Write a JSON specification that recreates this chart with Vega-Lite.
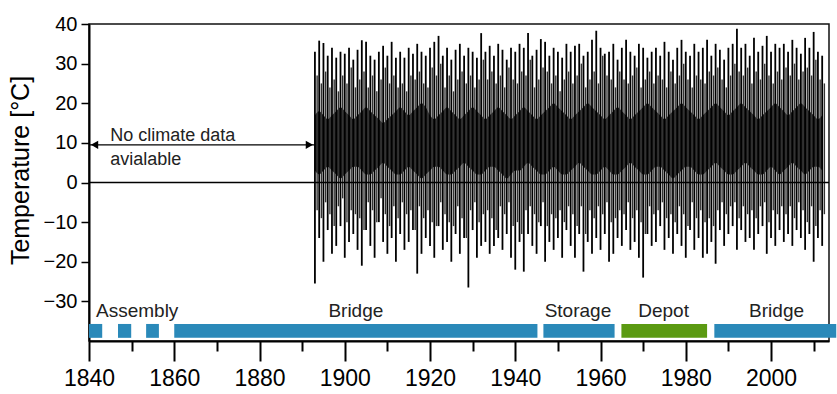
{
"$schema":"https://vega.github.io/schema/vega-lite/v6.json",
"width":740,"height":317,
"autosize":{"type":"none"},
"padding":{"left":89,"top":24,"right":8,"bottom":53},
"background":"white",
"config":{"view":{"stroke":"#111","strokeWidth":1.5},"font":"Liberation Sans"},
"datasets":{
"temp":[
{"yr":1893,"mn":-25.5,"mx":33,"a":-7,"b":27,"lo":3,"hi":17},
{"yr":1894,"mn":-14,"mx":35.8,"a":-9,"b":25,"lo":2,"hi":18},
{"yr":1895,"mn":-20,"mx":35.2,"a":-5,"b":28,"lo":3,"hi":17},
{"yr":1896,"mn":-12,"mx":32,"a":-8,"b":24,"lo":4,"hi":16},
{"yr":1897,"mn":-18,"mx":34,"a":-11,"b":26,"lo":3,"hi":17},
{"yr":1898,"mn":-16,"mx":31.5,"a":-6,"b":23,"lo":2,"hi":18},
{"yr":1899,"mn":-11,"mx":33,"a":-4,"b":27,"lo":1,"hi":19},
{"yr":1900,"mn":-19,"mx":32.5,"a":-10,"b":25,"lo":2,"hi":18},
{"yr":1901,"mn":-15,"mx":34,"a":-7,"b":29,"lo":3,"hi":17},
{"yr":1902,"mn":-13,"mx":31,"a":-8,"b":24,"lo":4,"hi":16},
{"yr":1903,"mn":-17,"mx":33.5,"a":-9,"b":26,"lo":4,"hi":17},
{"yr":1904,"mn":-21,"mx":35.9,"a":-12,"b":28,"lo":3,"hi":18},
{"yr":1905,"mn":-12,"mx":35.5,"a":-5,"b":24,"lo":2,"hi":19},
{"yr":1906,"mn":-16,"mx":32,"a":-7,"b":27,"lo":2,"hi":18},
{"yr":1907,"mn":-19,"mx":31,"a":-10,"b":23,"lo":3,"hi":17},
{"yr":1908,"mn":-10,"mx":33,"a":-4,"b":26,"lo":4,"hi":16},
{"yr":1909,"mn":-15,"mx":34.5,"a":-8,"b":29,"lo":5,"hi":15},
{"yr":1910,"mn":-18,"mx":32,"a":-11,"b":25,"lo":4,"hi":16},
{"yr":1911,"mn":-14,"mx":35.5,"a":-6,"b":27,"lo":3,"hi":17},
{"yr":1912,"mn":-20,"mx":31.5,"a":-9,"b":24,"lo":2,"hi":18},
{"yr":1913,"mn":-13,"mx":33,"a":-5,"b":25,"lo":2,"hi":19},
{"yr":1914,"mn":-17,"mx":31.5,"a":-8,"b":23,"lo":3,"hi":18},
{"yr":1915,"mn":-15,"mx":34,"a":-7,"b":27,"lo":4,"hi":17},
{"yr":1916,"mn":-12,"mx":32.5,"a":-12,"b":26,"lo":3,"hi":18},
{"yr":1917,"mn":-23,"mx":35,"a":-6,"b":28,"lo":2,"hi":19},
{"yr":1918,"mn":-18,"mx":33,"a":-9,"b":25,"lo":1,"hi":20},
{"yr":1919,"mn":-14,"mx":32,"a":-7,"b":24,"lo":2,"hi":19},
{"yr":1920,"mn":-16,"mx":34,"a":-10,"b":29,"lo":3,"hi":17},
{"yr":1921,"mn":-19,"mx":35.5,"a":-11,"b":27,"lo":4,"hi":16},
{"yr":1922,"mn":-11,"mx":37,"a":-5,"b":30,"lo":4,"hi":17},
{"yr":1923,"mn":-17,"mx":32,"a":-8,"b":24,"lo":3,"hi":18},
{"yr":1924,"mn":-15,"mx":34,"a":-10,"b":27,"lo":2,"hi":19},
{"yr":1925,"mn":-20,"mx":31,"a":-11,"b":23,"lo":2,"hi":18},
{"yr":1926,"mn":-13,"mx":33.5,"a":-6,"b":26,"lo":3,"hi":17},
{"yr":1927,"mn":-18,"mx":35,"a":-9,"b":28,"lo":4,"hi":16},
{"yr":1928,"mn":-14,"mx":32,"a":-14,"b":25,"lo":5,"hi":17},
{"yr":1929,"mn":-26.5,"mx":34,"a":-7,"b":27,"lo":4,"hi":18},
{"yr":1930,"mn":-12,"mx":33,"a":-5,"b":24,"lo":3,"hi":19},
{"yr":1931,"mn":-19,"mx":31.5,"a":-10,"b":26,"lo":2,"hi":18},
{"yr":1932,"mn":-16,"mx":37.7,"a":-8,"b":31,"lo":2,"hi":17},
{"yr":1933,"mn":-15,"mx":33,"a":-7,"b":26,"lo":3,"hi":16},
{"yr":1934,"mn":-18,"mx":34.5,"a":-9,"b":28,"lo":4,"hi":17},
{"yr":1935,"mn":-16,"mx":32,"a":-12,"b":25,"lo":4,"hi":18},
{"yr":1936,"mn":-14,"mx":35,"a":-6,"b":27,"lo":3,"hi":19},
{"yr":1937,"mn":-17,"mx":33.5,"a":-8,"b":24,"lo":2,"hi":18},
{"yr":1938,"mn":-13,"mx":31,"a":-5,"b":29,"lo":1,"hi":17},
{"yr":1939,"mn":-19,"mx":34,"a":-11,"b":26,"lo":2,"hi":16},
{"yr":1940,"mn":-22,"mx":33,"a":-10,"b":25,"lo":3,"hi":17},
{"yr":1941,"mn":-15,"mx":35,"a":-13,"b":28,"lo":3,"hi":18},
{"yr":1942,"mn":-22.5,"mx":34,"a":-7,"b":27,"lo":4,"hi":19},
{"yr":1943,"mn":-13,"mx":37.7,"a":-6,"b":31,"lo":5,"hi":18},
{"yr":1944,"mn":-16,"mx":32,"a":-8,"b":24,"lo":4,"hi":17},
{"yr":1945,"mn":-18,"mx":33.5,"a":-10,"b":26,"lo":3,"hi":16},
{"yr":1946,"mn":-11,"mx":36.2,"a":-5,"b":29,"lo":2,"hi":17},
{"yr":1947,"mn":-20,"mx":35.5,"a":-11,"b":28,"lo":2,"hi":18},
{"yr":1948,"mn":-15,"mx":32,"a":-8,"b":25,"lo":3,"hi":19},
{"yr":1949,"mn":-17,"mx":34,"a":-9,"b":27,"lo":4,"hi":20},
{"yr":1950,"mn":-14,"mx":33,"a":-7,"b":23,"lo":3,"hi":19},
{"yr":1951,"mn":-19,"mx":31.5,"a":-10,"b":26,"lo":2,"hi":18},
{"yr":1952,"mn":-12,"mx":35,"a":-6,"b":28,"lo":2,"hi":17},
{"yr":1953,"mn":-16,"mx":33,"a":-8,"b":25,"lo":3,"hi":16},
{"yr":1954,"mn":-19,"mx":34.5,"a":-11,"b":27,"lo":4,"hi":17},
{"yr":1955,"mn":-13,"mx":35,"a":-6,"b":30,"lo":5,"hi":18},
{"yr":1956,"mn":-22.5,"mx":32,"a":-13,"b":24,"lo":4,"hi":19},
{"yr":1957,"mn":-15,"mx":33,"a":-7,"b":26,"lo":3,"hi":20},
{"yr":1958,"mn":-18,"mx":36,"a":-9,"b":28,"lo":2,"hi":19},
{"yr":1959,"mn":-14,"mx":38.3,"a":-6,"b":25,"lo":2,"hi":18},
{"yr":1960,"mn":-17,"mx":34,"a":-8,"b":32,"lo":3,"hi":17},
{"yr":1961,"mn":-13,"mx":32.5,"a":-5,"b":27,"lo":4,"hi":16},
{"yr":1962,"mn":-20,"mx":33,"a":-10,"b":26,"lo":3,"hi":17},
{"yr":1963,"mn":-18,"mx":35,"a":-9,"b":24,"lo":2,"hi":18},
{"yr":1964,"mn":-14,"mx":31,"a":-7,"b":28,"lo":2,"hi":19},
{"yr":1965,"mn":-16,"mx":34,"a":-8,"b":26,"lo":3,"hi":18},
{"yr":1966,"mn":-12,"mx":36,"a":-5,"b":25,"lo":4,"hi":17},
{"yr":1967,"mn":-17,"mx":33,"a":-9,"b":27,"lo":5,"hi":16},
{"yr":1968,"mn":-15,"mx":32,"a":-7,"b":29,"lo":4,"hi":17},
{"yr":1969,"mn":-19,"mx":35,"a":-10,"b":24,"lo":3,"hi":18},
{"yr":1970,"mn":-24,"mx":34,"a":-13,"b":26,"lo":2,"hi":19},
{"yr":1971,"mn":-13,"mx":31.5,"a":-6,"b":28,"lo":2,"hi":20},
{"yr":1972,"mn":-16,"mx":33,"a":-8,"b":25,"lo":3,"hi":19},
{"yr":1973,"mn":-15,"mx":34,"a":-7,"b":27,"lo":4,"hi":18},
{"yr":1974,"mn":-11,"mx":32,"a":-5,"b":26,"lo":4,"hi":17},
{"yr":1975,"mn":-17,"mx":35.5,"a":-9,"b":24,"lo":3,"hi":16},
{"yr":1976,"mn":-14,"mx":33,"a":-8,"b":28,"lo":2,"hi":17},
{"yr":1977,"mn":-18,"mx":31,"a":-10,"b":25,"lo":1,"hi":18},
{"yr":1978,"mn":-13,"mx":34,"a":-6,"b":27,"lo":2,"hi":19},
{"yr":1979,"mn":-16,"mx":36,"a":-8,"b":30,"lo":3,"hi":20},
{"yr":1980,"mn":-19,"mx":33,"a":-11,"b":26,"lo":4,"hi":19},
{"yr":1981,"mn":-12,"mx":32,"a":-5,"b":24,"lo":4,"hi":18},
{"yr":1982,"mn":-17,"mx":35,"a":-9,"b":27,"lo":3,"hi":17},
{"yr":1983,"mn":-14,"mx":33,"a":-7,"b":26,"lo":2,"hi":16},
{"yr":1984,"mn":-19,"mx":34,"a":-10,"b":25,"lo":2,"hi":17},
{"yr":1985,"mn":-18,"mx":36,"a":-9,"b":28,"lo":3,"hi":18},
{"yr":1986,"mn":-15,"mx":32,"a":-11,"b":27,"lo":4,"hi":19},
{"yr":1987,"mn":-20.5,"mx":35,"a":-7,"b":29,"lo":5,"hi":20},
{"yr":1988,"mn":-12,"mx":33.5,"a":-5,"b":26,"lo":4,"hi":19},
{"yr":1989,"mn":-16,"mx":31,"a":-8,"b":24,"lo":3,"hi":18},
{"yr":1990,"mn":-13,"mx":34,"a":-6,"b":27,"lo":2,"hi":17},
{"yr":1991,"mn":-11,"mx":35,"a":-5,"b":30,"lo":2,"hi":18},
{"yr":1992,"mn":-17,"mx":38.8,"a":-9,"b":28,"lo":3,"hi":19},
{"yr":1993,"mn":-12,"mx":34,"a":-6,"b":27,"lo":4,"hi":20},
{"yr":1994,"mn":-15,"mx":35,"a":-8,"b":29,"lo":5,"hi":19},
{"yr":1995,"mn":-14,"mx":32,"a":-7,"b":25,"lo":4,"hi":18},
{"yr":1996,"mn":-17,"mx":36.5,"a":-9,"b":28,"lo":3,"hi":17},
{"yr":1997,"mn":-13,"mx":33,"a":-6,"b":26,"lo":2,"hi":16},
{"yr":1998,"mn":-11,"mx":34.5,"a":-5,"b":30,"lo":2,"hi":17},
{"yr":1999,"mn":-18,"mx":37,"a":-10,"b":27,"lo":3,"hi":18},
{"yr":2000,"mn":-14,"mx":33,"a":-7,"b":25,"lo":4,"hi":19},
{"yr":2001,"mn":-16,"mx":35,"a":-8,"b":28,"lo":3,"hi":20},
{"yr":2002,"mn":-12,"mx":34,"a":-6,"b":26,"lo":2,"hi":19},
{"yr":2003,"mn":-15,"mx":35,"a":-8,"b":29,"lo":3,"hi":18},
{"yr":2004,"mn":-13,"mx":33,"a":-6,"b":27,"lo":4,"hi":17},
{"yr":2005,"mn":-16,"mx":36,"a":-9,"b":30,"lo":5,"hi":18},
{"yr":2006,"mn":-12,"mx":34,"a":-5,"b":26,"lo":4,"hi":19},
{"yr":2007,"mn":-14,"mx":32.5,"a":-7,"b":28,"lo":3,"hi":20},
{"yr":2008,"mn":-17,"mx":36.5,"a":-10,"b":29,"lo":2,"hi":19},
{"yr":2009,"mn":-13,"mx":34,"a":-6,"b":27,"lo":3,"hi":18},
{"yr":2010,"mn":-20,"mx":38,"a":-11,"b":31,"lo":4,"hi":17},
{"yr":2011,"mn":-14,"mx":33,"a":-7,"b":26,"lo":4,"hi":16},
{"yr":2012,"mn":-16,"mx":32,"a":-8,"b":25,"lo":3,"hi":17}
],
"phases":[
{"phase":"Assembly","start":1840,"end":1843.1,"kind":"blue"},
{"phase":"Assembly","start":1846.8,"end":1849.9,"kind":"blue"},
{"phase":"Assembly","start":1853.4,"end":1856.4,"kind":"blue"},
{"phase":"Bridge","start":1860,"end":1945.2,"kind":"blue"},
{"phase":"Storage","start":1946.6,"end":1963.3,"kind":"blue"},
{"phase":"Depot","start":1964.9,"end":1985,"kind":"green"},
{"phase":"Bridge","start":1986.7,"end":2015.3,"kind":"blue"}
],
"labels":[
{"label":"Assembly","x":1851.3},
{"label":"Bridge","x":1902.6},
{"label":"Storage","x":1954.7},
{"label":"Depot","x":1974.8},
{"label":"Bridge","x":2001.3}
],
"note":[
{"t":"No climate data","y":10.35},
{"t":"avialable","y":4.47}
],
"heads":[
{"x":1841.3,"dir":"left"},
{"x":1891.7,"dir":"right"}
],
"zero":[{"v":0}]
},
"layer":[
{"data":{"name":"temp"},
 "mark":{"type":"area","color":"black","opacity":0.85,"interpolate":"monotone"},
 "encoding":{
  "x":{"field":"yr","type":"quantitative","scale":{"domain":[1840,2013.6],"nice":false,"zero":false},
   "axis":{"values":[1840,1850,1860,1870,1880,1890,1900,1910,1920,1930,1940,1950,1960,1970,1980,1990,2000,2010],
    "format":"d","labelExpr":"datum.value % 20 === 0 ? datum.label : ''","labelFlush":false,"labelOverlap":false,
    "tickSize":{"condition":{"test":"datum.value % 20 === 0","value":20},"value":10},
    "tickWidth":2,"tickColor":"black","domainColor":"black","domainWidth":2,
    "labelFontSize":23,"labelColor":"black","labelPadding":6,"grid":false,"title":null,"labelFont":"Liberation Sans"}},
  "y":{"field":"lo","type":"quantitative","scale":{"domain":[-40,40],"nice":false,"zero":false},
   "axis":{"values":[-30,-25,-20,-15,-10,-5,0,5,10,15,20,25,30,35,40],
    "labelExpr":"datum.value % 10 === 0 ? datum.label : ''","labelFlush":false,"labelOverlap":false,
    "tickSize":{"condition":{"test":"datum.value % 10 === 0","value":8},"value":4},
    "tickWidth":1.5,"tickColor":"black","domainColor":"black","domainWidth":2,
    "labelFontSize":20,"labelColor":"black","labelPadding":4,"grid":false,
    "title":"Temperature [°C]","titleFontSize":25,"titleFontWeight":"normal","titleColor":"black","titlePadding":10,"titleY":146,"titleFont":"Liberation Sans","labelFont":"Liberation Sans"}},
  "y2":{"field":"hi"}
 }},
{"data":{"name":"temp"},
 "mark":{"type":"rule","color":"#333","strokeWidth":1.4,"xOffset":2.2},
 "encoding":{"x":{"field":"yr","type":"quantitative"},"y":{"field":"a","type":"quantitative"},"y2":{"field":"b"}}},
{"data":{"name":"temp"},
 "mark":{"type":"rule","color":"black","strokeWidth":1.8},
 "encoding":{"x":{"field":"yr","type":"quantitative"},"y":{"field":"mn","type":"quantitative"},"y2":{"field":"mx"}}},
{"data":{"name":"zero"},
 "mark":{"type":"rule","color":"black","strokeWidth":1.6},
 "encoding":{"y":{"field":"v","type":"quantitative"}}},
{"data":{"name":"zero"},
 "mark":{"type":"rule","color":"black","strokeWidth":1.3},
 "encoding":{"x":{"datum":1840},"x2":{"datum":1893},"y":{"datum":9.5}}},
{"data":{"name":"heads"},
 "mark":{"type":"point","filled":true,"color":"black","opacity":1,"size":70},
 "encoding":{"x":{"field":"x","type":"quantitative"},"y":{"datum":9.5},
  "shape":{"field":"dir","type":"nominal","scale":{"domain":["left","right"],"range":["triangle-left","triangle-right"]},"legend":null}}},
{"data":{"name":"note"},
 "mark":{"type":"text","align":"left","baseline":"alphabetic","fontSize":18,"color":"#222","font":"Liberation Sans"},
 "encoding":{"x":{"datum":1845},"y":{"field":"y","type":"quantitative"},"text":{"field":"t"}}},
{"data":{"name":"phases"},
 "mark":{"type":"bar"},
 "encoding":{"x":{"field":"start","type":"quantitative"},"x2":{"field":"end"},"y":{"datum":-35.7},"y2":{"datum":-39.2},
  "color":{"field":"kind","type":"nominal","scale":{"domain":["blue","green"],"range":["#2a89b9","#5b9a12"]},"legend":null}}},
{"data":{"name":"labels"},
 "mark":{"type":"text","align":"center","baseline":"alphabetic","fontSize":19,"color":"#222","font":"Liberation Sans"},
 "encoding":{"x":{"field":"x","type":"quantitative"},"y":{"datum":-34},"text":{"field":"label"}}}
]
}
